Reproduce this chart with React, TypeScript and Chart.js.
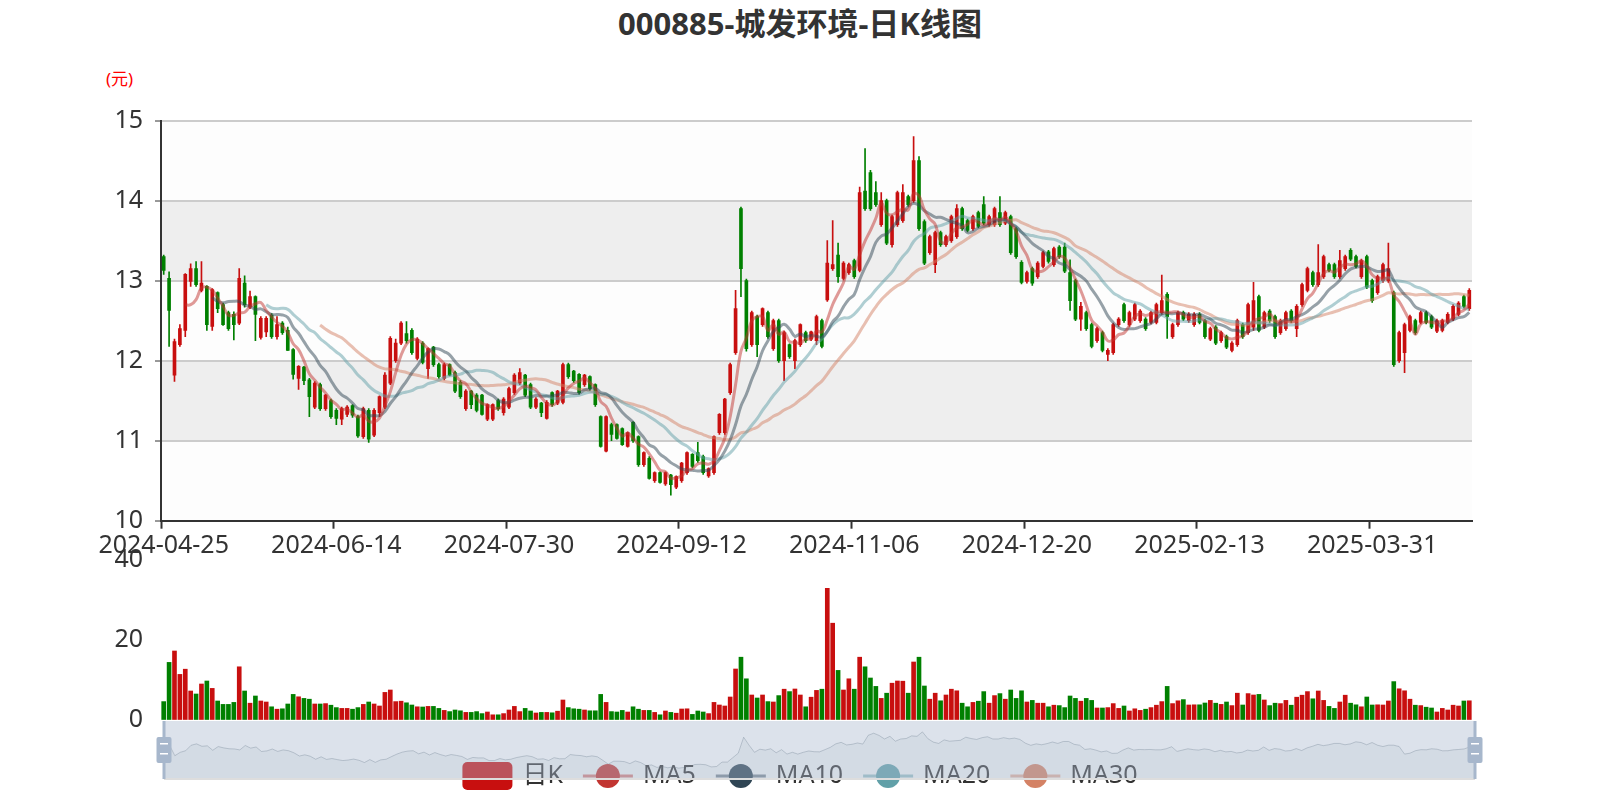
import React, { useEffect, useRef } from "react";
import { Chart, registerables } from "chart.js";

Chart.register(...registerables);

const FONT = '"Noto Sans", "Noto Sans CJK SC", sans-serif';
const TITLE = "000885-城发环境-日K线图";
const UNIT = "(元)";
const LEGEND_NAMES = ["日K", "MA5", "MA10", "MA20", "MA30"];
const MA_PERIODS = [5, 10, 20, 30];
const MA_COLORS = ["#c23531", "#2f4554", "#61a0a8", "#d48265"];
const UP = "#c80f0f";
const DOWN = "#008000";

const START_DATE = "2024-04-25";
const DAY_COUNT = 243;
const HOLIDAYS = [
  "2024-05-01", "2024-05-02", "2024-05-03", "2024-06-10", "2024-09-16", "2024-09-17",
  "2024-10-01", "2024-10-02", "2024-10-03", "2024-10-04", "2024-10-07", "2025-01-01",
  "2025-01-28", "2025-01-29", "2025-01-30", "2025-01-31", "2025-02-03", "2025-02-04", "2025-04-04",
];
const LABEL_EVERY = 32;
const PRICE_MIN = 10;
const PRICE_MAX = 15;
const PRICE_STEP = 1;
const VOL_MIN = 0;
const VOL_MAX = 40;
const VOL_STEP = 20;

const OPEN = [
  13.30, 13.03, 11.82, 12.20, 12.38, 12.99, 13.15, 12.88, 12.93, 12.43,
  12.85, 12.70, 12.60, 12.58, 12.47, 12.97, 12.67, 12.80, 12.29, 12.36,
  12.57, 12.30, 12.47, 12.38, 12.14, 11.78, 11.92, 11.76, 11.42, 11.70,
  11.40, 11.50, 11.38, 11.27, 11.33, 11.44, 11.30, 11.05, 11.38, 11.07,
  11.35, 11.42, 11.72, 12.00, 12.22, 12.34, 12.38, 12.03, 12.22, 11.90,
  12.17, 11.95, 11.78, 11.95, 11.85, 11.73, 11.40, 11.62, 11.57, 11.57,
  11.27, 11.27, 11.50, 11.35, 11.42, 11.60, 11.72, 11.82, 11.70, 11.42,
  11.47, 11.28, 11.60, 11.47, 11.48, 11.95, 11.87, 11.83, 11.70, 11.80,
  11.70, 11.30, 10.87, 11.20, 11.20, 11.15, 10.93, 11.23, 11.05, 10.70,
  10.78, 10.50, 10.60, 10.46, 10.57, 10.42, 10.50, 10.60, 10.83, 10.85,
  10.80, 10.56, 10.60, 11.10, 11.10, 11.60, 12.10, 13.90, 13.00, 12.20,
  12.55, 12.45, 12.60, 12.15, 12.50, 12.00, 12.20, 12.00, 12.20, 12.35,
  12.27, 12.25, 12.50, 12.76, 13.15, 13.32, 13.03, 13.10, 13.25, 13.13,
  14.12, 14.35, 14.10, 13.70, 14.00, 13.45, 13.70, 13.75, 14.05, 14.00,
  14.50, 13.74, 13.35, 13.20, 13.60, 13.45, 13.50, 13.55, 13.90, 13.75,
  13.65, 13.85, 13.95, 13.70, 13.70, 13.85, 13.72, 13.80, 13.65, 13.23,
  12.99, 13.15, 13.05, 13.18, 13.36, 13.20, 13.42, 13.42, 13.10, 13.00,
  12.52, 12.60, 12.45, 12.25, 12.35, 12.08, 12.10, 12.45, 12.70, 12.45,
  12.52, 12.50, 12.52, 12.48, 12.48, 12.60, 12.83, 12.30, 12.45, 12.60,
  12.50, 12.45, 12.58, 12.50, 12.27, 12.42, 12.25, 12.30, 12.13, 12.20,
  12.45, 12.35, 12.42, 12.80, 12.42, 12.62, 12.55, 12.35, 12.40, 12.62,
  12.40, 12.70, 12.88, 13.10, 12.95, 13.05, 13.20, 13.20, 13.05, 13.15,
  13.38, 13.30, 13.05, 13.30, 13.00, 12.85, 13.00, 13.00, 12.85, 12.00,
  12.10, 12.38, 12.50, 12.48, 12.60, 12.55, 12.37, 12.38, 12.48, 12.52,
  12.58, 12.80, 12.65,
];

const CLOSE = [
  13.13, 12.63, 12.24, 12.40, 13.08, 13.15, 12.95, 12.97, 12.45, 12.89,
  12.65, 12.45, 12.40, 12.45, 13.03, 12.70, 12.80, 12.58, 12.53, 12.53,
  12.30, 12.45, 12.35, 12.13, 11.83, 11.93, 11.75, 11.55, 11.72, 11.40,
  11.57, 11.30, 11.28, 11.40, 11.42, 11.32, 11.06, 11.40, 11.02, 11.38,
  11.55, 11.82, 12.28, 12.22, 12.47, 12.25, 12.10, 12.27, 11.98, 12.15,
  11.95, 11.80, 11.95, 11.82, 11.62, 11.55, 11.62, 11.45, 11.38, 11.33,
  11.45, 11.45, 11.40, 11.52, 11.65, 11.82, 11.85, 11.57, 11.42, 11.52,
  11.35, 11.48, 11.45, 11.62, 11.95, 11.80, 11.75, 11.60, 11.82, 11.65,
  11.45, 10.93, 11.30, 11.08, 11.03, 10.95, 11.10, 11.00, 10.70, 10.85,
  10.53, 10.60, 10.48, 10.60, 10.45, 10.55, 10.72, 10.85, 10.68, 10.75,
  10.60, 10.65, 11.05, 11.33, 11.52, 11.95, 12.65, 13.15, 12.15, 12.60,
  12.20, 12.65, 12.30, 12.50, 12.00, 12.35, 12.05, 12.25, 12.45, 12.25,
  12.36, 12.55, 12.18, 13.22, 13.20, 13.05, 13.22, 13.20, 13.05, 14.10,
  13.90, 13.90, 13.95, 14.00, 13.47, 13.80, 14.10, 14.10, 13.95, 14.50,
  13.65, 13.22, 13.55, 13.60, 13.45, 13.55, 13.80, 13.90, 13.65, 13.63,
  13.80, 13.68, 13.72, 13.80, 13.90, 13.70, 13.85, 13.35, 13.30, 12.98,
  13.10, 12.97, 13.22, 13.35, 13.24, 13.40, 13.30, 13.12, 12.75, 12.52,
  12.68, 12.40, 12.18, 12.40, 12.13, 12.13, 12.45, 12.52, 12.50, 12.60,
  12.70, 12.62, 12.40, 12.60, 12.70, 12.75, 12.55, 12.45, 12.60, 12.52,
  12.58, 12.58, 12.48, 12.30, 12.40, 12.22, 12.35, 12.17, 12.22, 12.50,
  12.30, 12.70, 12.75, 12.38, 12.60, 12.50, 12.30, 12.50, 12.60, 12.50,
  12.68, 12.95, 13.15, 12.95, 13.10, 13.30, 13.13, 13.05, 13.25, 13.30,
  13.27, 13.18, 13.25, 12.92, 12.75, 13.05, 13.20, 13.15, 11.95, 12.35,
  12.45, 12.55, 12.35, 12.60, 12.48, 12.42, 12.50, 12.50, 12.58, 12.68,
  12.72, 12.68, 12.88,
];

const LOW = [
  13.08, 12.18, 11.74, 12.18, 12.30, 12.93, 12.93, 12.86, 12.38, 12.38,
  12.60, 12.44, 12.38, 12.26, 12.45, 12.67, 12.65, 12.25, 12.27, 12.30,
  12.28, 12.27, 12.33, 12.13, 11.77, 11.64, 11.70, 11.30, 11.40, 11.38,
  11.38, 11.28, 11.20, 11.20, 11.30, 11.29, 11.04, 11.03, 10.98, 11.05,
  11.30, 11.40, 11.70, 11.98, 12.20, 12.22, 12.08, 12.01, 11.96, 11.78,
  11.93, 11.78, 11.76, 11.81, 11.60, 11.53, 11.38, 11.40, 11.36, 11.32,
  11.25, 11.25, 11.38, 11.32, 11.40, 11.58, 11.70, 11.55, 11.40, 11.40,
  11.30, 11.27, 11.43, 11.45, 11.46, 11.78, 11.73, 11.58, 11.68, 11.63,
  11.43, 10.92, 10.86, 11.00, 11.02, 10.94, 10.92, 10.98, 10.68, 10.68,
  10.52, 10.48, 10.47, 10.44, 10.32, 10.40, 10.48, 10.58, 10.66, 10.73,
  10.58, 10.54, 10.58, 11.08, 11.08, 11.58, 12.08, 12.80, 12.12, 12.18,
  12.05, 12.43, 12.28, 12.13, 11.98, 11.75, 12.03, 11.90, 12.18, 12.23,
  12.25, 12.20, 12.16, 12.74, 13.13, 12.98, 13.01, 13.08, 13.03, 13.11,
  13.88, 13.88, 13.93, 13.68, 13.45, 13.42, 13.68, 13.73, 13.93, 13.98,
  13.63, 13.20, 13.33, 13.10, 13.43, 13.43, 13.48, 13.53, 13.63, 13.61,
  13.63, 13.66, 13.70, 13.68, 13.68, 13.68, 13.70, 13.33, 13.28, 12.96,
  12.97, 12.94, 13.03, 13.16, 13.22, 13.18, 13.28, 13.10, 12.63, 12.50,
  12.38, 12.38, 12.16, 12.23, 12.11, 12.00, 12.08, 12.43, 12.48, 12.43,
  12.50, 12.48, 12.38, 12.46, 12.46, 12.58, 12.28, 12.28, 12.43, 12.50,
  12.48, 12.43, 12.46, 12.28, 12.25, 12.20, 12.23, 12.15, 12.11, 12.18,
  12.28, 12.33, 12.38, 12.36, 12.40, 12.48, 12.28, 12.33, 12.38, 12.48,
  12.30, 12.68, 12.86, 12.93, 12.93, 13.03, 13.11, 13.03, 13.03, 13.13,
  13.25, 13.16, 13.03, 12.90, 12.73, 12.83, 12.98, 12.98, 11.93, 11.98,
  11.85, 12.36, 12.33, 12.46, 12.46, 12.40, 12.35, 12.36, 12.46, 12.50,
  12.56, 12.66, 12.63,
];

const HIGH = [
  13.32, 13.11, 12.27, 12.45, 13.09, 13.21, 13.24, 13.24, 12.94, 12.90,
  12.86, 12.72, 12.62, 12.61, 13.15, 13.06, 12.87, 12.81, 12.55, 12.55,
  12.59, 12.55, 12.49, 12.42, 12.15, 11.94, 11.93, 11.78, 11.74, 11.72,
  11.58, 11.52, 11.40, 11.42, 11.44, 11.45, 11.32, 11.42, 11.40, 11.40,
  11.56, 11.85, 12.30, 12.27, 12.49, 12.49, 12.40, 12.29, 12.24, 12.16,
  12.18, 11.97, 11.97, 11.96, 11.87, 11.75, 11.64, 11.63, 11.59, 11.58,
  11.46, 11.46, 11.52, 11.54, 11.67, 11.84, 11.90, 11.83, 11.72, 11.54,
  11.48, 11.50, 11.61, 11.63, 11.97, 11.97, 11.88, 11.84, 11.83, 11.81,
  11.71, 11.31, 11.31, 11.22, 11.21, 11.16, 11.11, 11.24, 11.06, 10.86,
  10.80, 10.61, 10.61, 10.61, 10.58, 10.56, 10.73, 10.86, 10.84, 10.98,
  10.82, 10.66, 11.06, 11.34, 11.53, 11.97, 12.88, 13.92, 13.02, 12.62,
  12.57, 12.66, 12.62, 12.52, 12.52, 12.37, 12.21, 12.27, 12.46, 12.37,
  12.37, 12.57, 12.52, 13.50, 13.75, 13.47, 13.24, 13.22, 13.27, 14.17,
  14.65, 14.38, 14.24, 14.10, 14.02, 13.82, 14.12, 14.20, 14.07, 14.80,
  14.55, 13.76, 13.57, 13.62, 13.62, 13.57, 13.82, 13.95, 13.92, 13.77,
  13.82, 13.87, 14.05, 13.82, 13.92, 14.05, 13.87, 13.82, 13.67, 13.25,
  13.12, 13.17, 13.24, 13.37, 13.38, 13.42, 13.44, 13.47, 13.26, 13.02,
  12.73, 12.62, 12.47, 12.42, 12.37, 12.15, 12.47, 12.54, 12.72, 12.62,
  12.72, 12.64, 12.54, 12.62, 12.72, 13.07, 12.85, 12.47, 12.62, 12.62,
  12.60, 12.60, 12.60, 12.52, 12.42, 12.44, 12.37, 12.32, 12.24, 12.52,
  12.47, 12.72, 12.98, 12.82, 12.62, 12.64, 12.57, 12.52, 12.62, 12.64,
  12.70, 12.97, 13.17, 13.12, 13.45, 13.32, 13.22, 13.22, 13.38, 13.32,
  13.40, 13.32, 13.27, 13.32, 13.02, 13.07, 13.22, 13.47, 12.87, 12.37,
  12.47, 12.57, 12.52, 12.62, 12.62, 12.57, 12.52, 12.52, 12.60, 12.70,
  12.74, 12.82, 12.90,
];

const VOLUME = [
  4.6, 14.4, 17.25, 11.4, 12.7, 7.25, 6.5, 9.0, 9.75, 7.9,
  4.75, 3.9, 3.9, 4.4, 13.3, 7.25, 4.2, 6.0, 4.75, 4.5,
  3.3, 2.7, 2.8, 4.0, 6.4, 5.8, 5.4, 5.2, 4.0, 4.0,
  4.1, 3.7, 3.1, 2.9, 2.9, 2.7, 3.1, 3.9, 4.5, 4.0,
  3.5, 6.9, 7.5, 4.6, 4.7, 4.3, 3.75, 3.3, 3.25, 3.4,
  3.4, 2.9, 2.4, 2.1, 2.5, 2.3, 1.9, 1.9, 2.1, 1.6,
  2.0, 1.3, 1.3, 1.6, 2.5, 3.4, 2.1, 2.9, 2.25, 1.75,
  1.9, 1.9, 1.8, 2.2, 5.0, 3.1, 2.8, 2.7, 2.5, 2.3,
  2.3, 6.4, 4.4, 2.1, 2.0, 2.4, 2.0, 3.3, 2.7, 2.4,
  2.4, 1.9, 1.3, 2.25, 1.9, 1.7, 2.75, 2.8, 1.4, 2.25,
  2.0, 1.6, 4.4, 3.75, 3.5, 5.75, 12.75, 15.7, 10.3, 6.25,
  5.5, 6.25, 4.6, 4.5, 6.1, 7.7, 7.1, 7.75, 6.25, 3.3,
  5.7, 7.4, 7.7, 32.9, 24.2, 12.4, 7.5, 10.3, 7.7, 15.7,
  13.3, 10.5, 8.4, 5.4, 6.7, 9.2, 9.75, 9.7, 6.7, 14.5,
  15.7, 8.5, 5.2, 6.7, 4.8, 6.25, 7.7, 7.3, 4.2, 3.3,
  4.4, 4.7, 7.1, 4.2, 6.1, 6.6, 5.2, 7.5, 5.4, 7.3,
  4.5, 4.9, 4.2, 4.2, 3.3, 3.7, 3.6, 3.1, 6.0, 5.4,
  4.7, 5.4, 4.9, 3.0, 3.0, 3.1, 4.1, 2.9, 3.5, 2.25,
  2.8, 2.4, 2.7, 3.1, 3.7, 4.6, 8.4, 4.1, 4.8, 5.1,
  3.75, 3.8, 3.8, 4.25, 4.9, 4.2, 3.9, 4.5, 3.6, 6.7,
  3.75, 6.6, 6.25, 6.4, 5.0, 3.6, 4.2, 4.1, 4.9, 3.7,
  5.7, 6.2, 7.1, 5.3, 7.25, 4.9, 3.4, 2.9, 4.5, 6.2,
  4.2, 3.8, 3.3, 5.75, 3.75, 3.8, 3.75, 4.75, 9.6, 7.8,
  7.3, 5.2, 3.7, 3.6, 3.2, 3.0, 2.0, 2.9, 2.5, 3.7,
  3.5, 4.75, 4.8,
];

function tradingDays(start: string, count: number, holidays: string[]): string[] {
  const out: string[] = [];
  const d = new Date(start + "T00:00:00Z");
  while (out.length < count) {
    const s = d.toISOString().slice(0, 10);
    const wd = d.getUTCDay();
    if (wd !== 0 && wd !== 6 && holidays.indexOf(s) < 0) out.push(s);
    d.setUTCDate(d.getUTCDate() + 1);
  }
  return out;
}

function movingAverage(values: number[], n: number): (number | null)[] {
  return values.map((_, i) => {
    if (i < n - 1) return null;
    let s = 0;
    for (let k = i - n + 1; k <= i; k++) s += values[k];
    return +(s / n).toFixed(3);
  });
}

function hexA(hex: string, a: number) {
  const r = parseInt(hex.slice(1, 3), 16);
  const g = parseInt(hex.slice(3, 5), 16);
  const b = parseInt(hex.slice(5, 7), 16);
  return `rgba(${r},${g},${b},${a})`;
}

const W = 1600;
const PLOT_LEFT = 161;
const PLOT_RIGHT = 1472;

export default function App() {
  const mainRef = useRef<HTMLCanvasElement>(null);
  const volRef = useRef<HTMLCanvasElement>(null);
  const sliderRef = useRef<HTMLCanvasElement>(null);

  useEffect(() => {
    const dates = tradingDays(START_DATE, DAY_COUNT, HOLIDAYS);
    const colors = CLOSE.map((c, i) => (c >= OPEN[i] ? UP : DOWN));
    const tickFont = { family: FONT, size: 25 };

    const splitArea = {
      id: "splitArea",
      beforeDraw(chart: any) {
        const { ctx, chartArea } = chart;
        const y = chart.scales.y;
        ctx.save();
        let k = 0;
        for (let v = PRICE_MIN; v < PRICE_MAX; v += PRICE_STEP, k++) {
          const top = y.getPixelForValue(v + PRICE_STEP);
          const bot = y.getPixelForValue(v);
          ctx.fillStyle = k % 2 === 0 ? "rgba(250,250,250,0.3)" : "rgba(200,200,200,0.3)";
          ctx.fillRect(chartArea.left, top, chartArea.right - chartArea.left, bot - top);
        }
        ctx.restore();
      },
    };

    const maDatasets = MA_PERIODS.map((p, k) => ({
      type: "line" as const,
      label: LEGEND_NAMES[k + 1],
      data: movingAverage(CLOSE, p),
      borderColor: hexA(MA_COLORS[k], 0.5),
      borderWidth: 3,
      pointRadius: 0,
      tension: 0.4,
      fill: false,
      order: 0,
    }));

    const mainChart = new Chart(mainRef.current!, {
      type: "bar",
      data: {
        labels: dates,
        datasets: [
          {
            label: "wick",
            data: LOW.map((l, i) => [l, HIGH[i]]) as any,
            backgroundColor: colors,
            barThickness: 1,
            grouped: false,
            order: 2,
          } as any,
          {
            label: "body",
            data: OPEN.map((o, i) => [Math.min(o, CLOSE[i]), Math.max(o, CLOSE[i])]) as any,
            backgroundColor: colors,
            barThickness: 3,
            grouped: false,
            order: 1,
          } as any,
          ...maDatasets,
        ],
      },
      options: {
        responsive: false,
        animation: false,
        events: [],
        layout: { padding: { top: 120.7, right: W - PLOT_RIGHT, left: 0, bottom: 0 } },
        plugins: { legend: { display: false }, tooltip: { enabled: false }, title: { display: false } },
        scales: {
          x: {
            type: "category",
            offset: true,
            grid: {
              display: true,
              offset: true,
              drawOnChartArea: false,
              drawTicks: true,
              tickLength: 8,
              tickWidth: 2,
              color: "rgba(0,0,0,0)",
              tickColor: (ctx: any) =>
                ctx.index % LABEL_EVERY === 0 || ctx.index >= DAY_COUNT ? "#333" : "rgba(0,0,0,0)",
            },
            border: { display: true, color: "#333", width: 2 },
            ticks: {
              autoSkip: false,
              maxRotation: 0,
              minRotation: 0,
              padding: 2,
              color: "#333",
              font: tickFont,
              callback: (_v: any, i: number) => (i % LABEL_EVERY === 0 ? dates[i] : ""),
            },
            afterFit: (s: any) => {
              s.height = 39.3;
            },
          },
          y: {
            min: PRICE_MIN,
            max: PRICE_MAX,
            grid: { color: "#cccccc", lineWidth: 2, drawTicks: true, tickLength: 6, tickColor: "#333", tickWidth: 1 },
            border: { display: true, color: "#333", width: 2 },
            ticks: { stepSize: PRICE_STEP, padding: 12, color: "#333", font: tickFont },
            afterFit: (s: any) => {
              s.width = PLOT_LEFT;
            },
          },
        },
      } as any,
      plugins: [splitArea],
    });

    const volChart = new Chart(volRef.current!, {
      type: "bar",
      data: {
        labels: dates,
        datasets: [
          {
            label: "volume",
            data: VOLUME,
            backgroundColor: colors,
            barThickness: 4,
          },
        ],
      },
      options: {
        responsive: false,
        animation: false,
        events: [],
        layout: { padding: { top: 60, right: W - PLOT_RIGHT, left: 0, bottom: 40 } },
        plugins: { legend: { display: false }, tooltip: { enabled: false } },
        scales: {
          x: { type: "category", offset: true, display: false },
          y: {
            min: VOL_MIN,
            max: VOL_MAX,
            grid: { display: true, drawOnChartArea: false, drawTicks: true, tickLength: 6, tickColor: "rgba(0,0,0,0)" },
            border: { display: false },
            ticks: { stepSize: VOL_STEP, padding: 12, color: "#333", font: tickFont },
            afterFit: (s: any) => {
              s.width = PLOT_LEFT;
            },
          },
        },
      } as any,
    });

    const oMin = Math.min(...OPEN);
    const oMax = Math.max(...OPEN);
    const pad = (oMax - oMin) * 0.3;

    const sliderDecor = {
      id: "sliderDecor",
      afterDraw(chart: any) {
        const { ctx, chartArea } = chart;
        ctx.save();
        // legend
        ctx.font = `25px ${FONT}`;
        const itemW = 50;
        const itemH = 28;
        const textGap = 10;
        const itemGap = 20;
        const widths = LEGEND_NAMES.map((n) => ctx.measureText(n).width);
        const total = widths.reduce((a, w) => a + itemW + textGap + w, 0) + itemGap * (LEGEND_NAMES.length - 1);
        let x = W / 2 - total / 2;
        const cy = 76;
        LEGEND_NAMES.forEach((name, k) => {
          if (k === 0) {
            ctx.fillStyle = UP;
            ctx.beginPath();
            (ctx as any).roundRect(x, cy - itemH / 2, itemW, itemH, 5);
            ctx.fill();
          } else {
            const c = MA_COLORS[k - 1];
            ctx.strokeStyle = hexA(c, 0.6);
            ctx.lineWidth = 3;
            ctx.beginPath();
            ctx.moveTo(x, cy);
            ctx.lineTo(x + itemW, cy);
            ctx.stroke();
            ctx.fillStyle = c;
            ctx.beginPath();
            ctx.arc(x + itemW / 2, cy, 12, 0, Math.PI * 2);
            ctx.fill();
          }
          ctx.fillStyle = "#333";
          ctx.textBaseline = "middle";
          ctx.textAlign = "left";
          ctx.fillText(name, x + itemW + textGap, cy);
          x += itemW + textGap + widths[k] + itemGap;
        });
        // filler
        const L = chartArea.left;
        const R = chartArea.right;
        const T = chartArea.top;
        const B = chartArea.bottom;
        ctx.fillStyle = "rgba(167,183,204,0.4)";
        ctx.fillRect(L, T, R - L, B - T);
        ctx.strokeStyle = "#dddddd";
        ctx.lineWidth = 2;
        ctx.beginPath();
        ctx.moveTo(L, B);
        ctx.lineTo(R, B);
        ctx.stroke();
        // handles
        [L, R].forEach((hx) => {
          ctx.fillStyle = "#a7b7cc";
          ctx.fillRect(hx - 1.5, T, 3, B - T);
          ctx.beginPath();
          (ctx as any).roundRect(hx - 7.5, T + 16, 15, 26, 2);
          ctx.fill();
          ctx.fillStyle = "#ffffff";
          ctx.fillRect(hx - 4, T + 22, 8, 1.5);
          ctx.fillRect(hx - 4, T + 32, 8, 1.5);
        });
        ctx.restore();
      },
    };

    const sliderChart = new Chart(sliderRef.current!, {
      type: "line",
      data: {
        labels: dates,
        datasets: [
          {
            label: "shadow",
            data: OPEN,
            borderColor: "rgba(47,69,84,0.3)",
            borderWidth: 1,
            backgroundColor: "rgba(47,69,84,0.07)",
            fill: "start",
            pointRadius: 0,
            tension: 0,
          },
        ],
      },
      options: {
        responsive: false,
        animation: false,
        events: [],
        layout: { padding: { top: 21, right: W - 1475, left: 164, bottom: 21 } },
        plugins: { legend: { display: false }, tooltip: { enabled: false } },
        scales: {
          x: { type: "category", offset: false, display: false },
          y: { min: oMin - pad, max: oMax + pad, display: false },
        },
      } as any,
      plugins: [sliderDecor],
    });

    return () => {
      mainChart.destroy();
      volChart.destroy();
      sliderChart.destroy();
    };
  }, []);

  return (
    <div style={{ position: "fixed", left: 0, top: 0, width: W, height: 800, background: "#fff", overflow: "hidden" }}>
      <div
        style={{
          position: "absolute",
          left: 0,
          top: 0,
          width: W,
          height: 46,
          lineHeight: "46px",
          textAlign: "center",
          fontFamily: FONT,
          fontWeight: "bold",
          fontSize: 31,
          color: "#333",
        }}
      >
        {TITLE}
      </div>
      <div
        style={{
          position: "absolute",
          left: 106,
          top: 67,
          lineHeight: "24px",
          fontFamily: FONT,
          fontSize: 17,
          color: "#ff0000",
          whiteSpace: "nowrap",
        }}
      >
        {UNIT}
      </div>
      <canvas ref={mainRef} width={W} height={560} style={{ position: "absolute", left: 0, top: 0, width: W, height: 560 }} />
      <canvas ref={volRef} width={W} height={260} style={{ position: "absolute", left: 0, top: 500, width: W, height: 260 }} />
      <canvas ref={sliderRef} width={W} height={100} style={{ position: "absolute", left: 0, top: 700, width: W, height: 100 }} />
    </div>
  );
}
